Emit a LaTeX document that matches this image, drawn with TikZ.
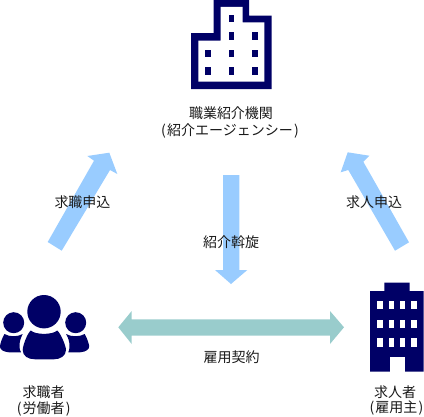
\documentclass[tikz,border=0pt]{standalone}
\usepackage{fontspec}
\newfontfamily\cjk{Noto Sans CJK JP}
\definecolor{navy}{HTML}{000066}
\definecolor{flowblue}{HTML}{99CCFF}
\definecolor{contract}{HTML}{99CCCC}
\tikzset{
  lbl/.style={font=\cjk\fontsize{14}{16}\selectfont, inner sep=0pt, text=black!90},
  icon/.style={fill=navy, draw=none},
  hole/.style={fill=white, draw=none},
  flow/.style={fill=flowblue, draw=none},
  contractarrow/.style={fill=contract, draw=none}
}
\begin{document}
\begin{tikzpicture}[x=1pt,y=-1pt]
\useasboundingbox (0,0) rectangle (424,416);
% agency building
\fill[icon] (213.7,0) -- (249,0) -- (249,15.7) -- (271.7,15.7) -- (271.7,89) -- (191,89) -- (191,33) -- (213.7,33) -- cycle;
\fill[hole] (220.5,6.8) -- (242.7,6.8) -- (242.7,22.3) -- (264.3,22.3) -- (264.3,81.7) -- (198.3,81.7) -- (198.3,40.5) -- (220.5,40.5) -- cycle;
\foreach \x/\y in {231.3/18.3, 231.3/36, 255/36, 207.7/53.3, 231.3/53.3, 255/53.3, 207.7/71, 231.3/71, 255/71}
  \fill[icon] (\x-2.8,\y-3.6) rectangle (\x+2.8,\y+3.6);
% job seekers
\fill[icon] (44,311.7) circle (16.7);
\fill[icon] (13.7,322.7) circle (10.5);
\fill[icon] (75.7,322.7) circle (10.5);
\fill[icon] (30.7,330.5) .. controls (36,335) and (52,335) .. (57.3,330.5) .. controls (61,334) and (66,346) .. (66,350) .. controls (66,356) and (60,359.3) .. (54,359.3) -- (35,359.3) .. controls (28,359.3) and (22.7,356) .. (22.7,350) .. controls (22.7,346) and (27,334) .. (30.7,330.5) -- cycle;
\fill[icon] (4.5,334) .. controls (9,337) and (18,337) .. (22.7,334) .. controls (20.5,338) and (19.5,342) .. (19.5,346) .. controls (19.5,349) and (20,351) .. (21,352.3) -- (9,352.3) .. controls (3,352) and (-0.5,349) .. (0,346) .. controls (0.5,343) and (2,338) .. (4.5,334) -- cycle;
\fill[icon] (84.7,334) .. controls (80,337) and (71,337) .. (66,334) .. controls (68.5,338) and (69.5,342) .. (69.5,346) .. controls (69.5,349) and (69,351) .. (68.3,352.3) -- (80,352.3) .. controls (86,352) and (89.6,349) .. (89.2,346) .. controls (88.7,343) and (87,338) .. (84.7,334) -- cycle;
% employer building
\fill[icon] (384.3,282.7) -- (409.7,282.7) -- (409.7,291) -- (423.5,291) -- (423.5,371.7) -- (370,371.7) -- (370,291) -- (384.3,291) -- cycle;
\foreach \y in {300.7,319.5,338.3}
  \foreach \x in {377.3,388.7,400,411.3}
    \fill[hole] (\x,\y) rectangle +(5.4,8.7);
\fill[hole] (389.7,357.3) rectangle (404.7,371.7);
% arrows
\fill[flow] (47.7,242) -- (94,160.7) -- (87.3,156) -- (109.3,152.7) -- (117.3,174) -- (110,170) -- (61.7,250.7) -- cycle;
\fill[flow] (409,242.3) -- (363.3,161.7) -- (369.3,155.7) -- (347.7,152.3) -- (340.7,172.3) -- (348.3,170) -- (395,250.7) -- cycle;
\fill[flow] (223,175) -- (239.3,175) -- (239.3,270) -- (247.3,270) -- (231,284) -- (215,270) -- (223,270) -- cycle;
\fill[contractarrow] (118.3,327.3) -- (131.7,311) -- (131.7,319.3) -- (330,319.3) -- (330,311) -- (344,327.3) -- (330,344) -- (330,335.7) -- (131.7,335.7) -- (131.7,344) -- cycle;
% labels
\node[lbl] (agency1) at (231,112.7) {職業紹介機関};
\node[lbl] (agency2) at (230,130.7) {(\hspace{1.2pt}紹介エージェンシー\hspace{1.2pt})};
\node[lbl] (intro) at (231,241.7) {紹介斡旋};
\node[lbl] (contracttext) at (231.7,357.3) {雇用契約};
\node[lbl] (seekapply) at (82.5,201.7) {求職申込};
\node[lbl] (hireapply) at (374,201.7) {求人申込};
\node[lbl] (seeker1) at (43.7,391.7) {求職者};
\node[lbl] (seeker2) at (43.7,409) {(\hspace{1.2pt}労働者\hspace{1.2pt})};
\node[lbl] (employer1) at (395,391.7) {求人者};
\node[lbl] (employer2) at (396.5,408.5) {(\hspace{1.2pt}雇用主\hspace{1.2pt})};
\end{tikzpicture}
\end{document}
